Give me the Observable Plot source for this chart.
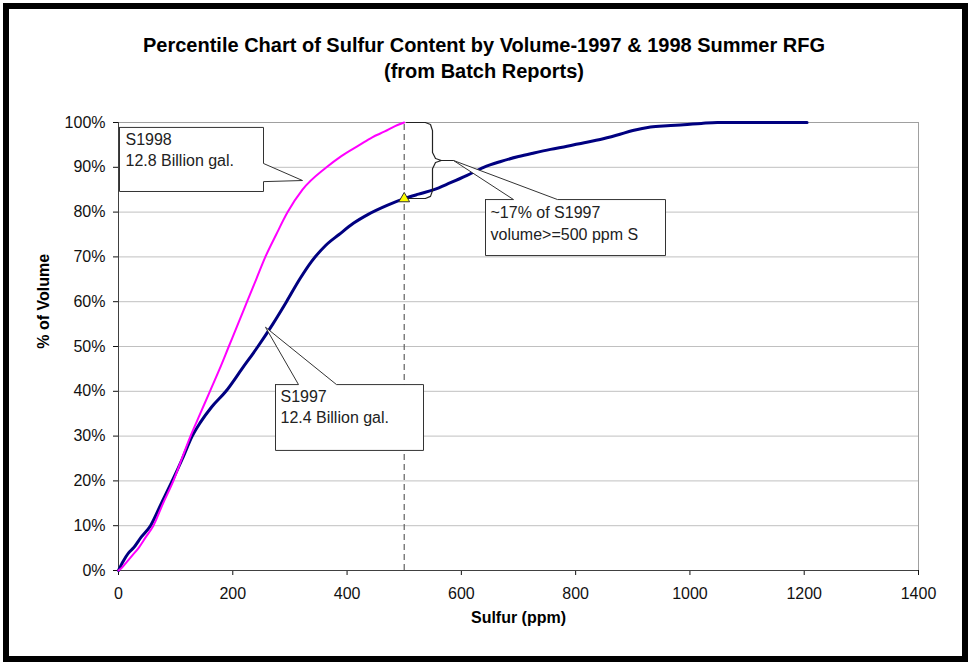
<!DOCTYPE html>
<html>
<head>
<meta charset="utf-8">
<script src="https://cdn.jsdelivr.net/npm/d3@7"></script>
<script src="https://cdn.jsdelivr.net/npm/@observablehq/plot@0.6"></script>
<style>
  body { margin: 0; background: #fff; font-family: Arial, "Liberation Sans", sans-serif; }
  #wrap { position: relative; width: 973px; height: 665px; overflow: hidden; background: #fff; }
  #chart { position: absolute; left: 0; top: 0; }
  #frame { position: absolute; left: 3px; top: 3px; width: 953px; height: 647px; border: 6px solid #000; pointer-events: none; }
  #title { position: absolute; left: 0; width: 968px; top: 32px; text-align: center; font-weight: bold;
           font-size: 20px; line-height: 26px; color: #000; font-family: Arial, "Liberation Sans", sans-serif; }
</style>
</head>
<body>
<div id="wrap">
  <div id="chart"></div>
  <div id="title">Percentile Chart of Sulfur Content by Volume-1997 &amp; 1998 Summer RFG<br>(from Batch Reports)</div>
  <div id="frame"></div>
</div>
<script>
// ---- Data ----
const xTicks = [0, 200, 400, 600, 800, 1000, 1200, 1400];
const yTicks = [0, 10, 20, 30, 40, 50, 60, 70, 80, 90, 100];

// S1997 cumulative % of volume vs sulfur (ppm)
const s1997Sulfur = [0, 8, 18, 26, 40, 56, 75, 94, 112, 129, 143, 163, 188, 216, 244, 270, 294, 317, 338, 362, 386, 411, 437, 470, 500, 525, 552, 580, 610, 639, 669, 700, 727, 756, 785, 815, 843, 873, 900, 931, 960, 989, 1020, 1048, 1100, 1150, 1205];
const s1997Pct    = [0, 2, 4, 5, 7.5, 10, 15, 20, 25, 30, 33, 36.5, 40, 45, 50, 55, 60, 65, 69, 72.5, 75, 77.5, 79.5, 81.5, 83, 84, 85, 86.5, 88.2, 90, 91.3, 92.4, 93.2, 94, 94.7, 95.5, 96.2, 97.2, 98.2, 99, 99.3, 99.5, 99.8, 100, 100, 100, 100];

// S1998 cumulative % of volume vs sulfur (ppm)
const s1998Sulfur = [0, 5, 15, 25, 35, 48, 61, 78, 96, 111, 126, 143, 160, 177, 193, 209, 225, 241, 257, 276, 296, 322, 364, 390, 422, 444, 466, 484, 500];
const s1998Pct    = [0, 0.5, 2, 3.5, 5, 7.5, 10, 15, 20, 25, 30, 35, 40, 45, 50, 55, 60, 65, 70, 75, 80, 85, 90, 92.5, 95, 96.7, 98, 99.2, 100];

// 500 ppm reference and marker on S1997
const refSulfur = [500];
const markerPoint = [{sulfur: 500, pct: 83}];

// Brace spanning 83% .. 100% at 500 ppm (data units)
const braceSulfur = [504, 537, 546, 549.5, 549.5, 554.8, 565, 586, 565, 554.8, 549.5, 549.5, 546, 537, 507];
const bracePct    = [100, 100, 99.55, 98.2, 93.3, 91.96, 91.52, 91.52, 91.52, 91.07, 89.7, 84.8, 83.5, 83.04, 83.04];

// Callouts (box + pointer) in data units
const call1Sulfur = [1.75, 253.75, 253.75, 322, 253.75, 253.75, 1.75, 1.75];
const call1Pct    = [98.9, 98.9, 90.85, 87.05, 86.8, 84.6, 84.6, 98.9];
const call2Sulfur = [274.75, 315, 257.25, 381.5, 533.75, 533.75, 274.75, 274.75];
const call2Pct    = [41.5, 41.5, 54.3, 41.5, 41.5, 26.8, 26.8, 41.5];
const call3Sulfur = [642.25, 691.25, 586.25, 768.25, 957.25, 957.25, 642.25, 642.25];
const call3Pct    = [82.8, 82.8, 91.52, 82.8, 82.8, 70.3, 70.3, 82.8];

const labelTexts = ["S1998", "12.8 Billion gal.", "S1997", "12.4 Billion gal.", "~17% of S1997", "volume>=500 ppm S"];
const labelSulfur = [12.25, 12.25, 283.5, 283.5, 651, 651];
const labelPct = [96.2, 91.5, 38.8, 34.15, 79.8, 75.0];

// ---- Build tables ----
const s1997 = s1997Sulfur.map((s, i) => ({sulfur: s, pct: s1997Pct[i]}));
const s1998 = s1998Sulfur.map((s, i) => ({sulfur: s, pct: s1998Pct[i]}));
const brace = braceSulfur.map((s, i) => ({sulfur: s, pct: bracePct[i]}));
const call1 = call1Sulfur.map((s, i) => ({sulfur: s, pct: call1Pct[i]}));
const call2 = call2Sulfur.map((s, i) => ({sulfur: s, pct: call2Pct[i]}));
const call3 = call3Sulfur.map((s, i) => ({sulfur: s, pct: call3Pct[i]}));
const labels = labelTexts.map((t, i) => ({text: t, sulfur: labelSulfur[i], pct: labelPct[i]}));

const font = "Arial, 'Liberation Sans', sans-serif";

const chart = Plot.plot({
  width: 973,
  height: 665,
  marginLeft: 118,
  marginRight: 55,
  marginTop: 122,
  marginBottom: 95,
  style: {background: "transparent", fontFamily: font, fontSize: "16px", color: "#111"},
  x: {domain: [0, 1400], ticks: xTicks, tickSize: 5, tickPadding: 12, tickFormat: d => `${d}`, label: null},
  y: {domain: [0, 100], ticks: yTicks, tickSize: 5, tickPadding: 8, tickFormat: d => `${d}%`, label: null},
  marks: [
    Plot.ruleY(yTicks.filter(d => d > 0 && d < 100), {stroke: "#c0c0c0", strokeWidth: 1}),
    Plot.ruleY([100], {stroke: "#a0a0a0", strokeWidth: 1}),
    Plot.ruleX([1400], {stroke: "#a0a0a0", strokeWidth: 1}),
    Plot.ruleX([0], {stroke: "#404040", strokeWidth: 1}),
    Plot.ruleY([0], {stroke: "#404040", strokeWidth: 1}),
    Plot.ruleX(refSulfur, {y1: 0, y2: 100, stroke: "#606060", strokeWidth: 1.2, strokeDasharray: "6,4"}),
    Plot.line(s1997, {x: "sulfur", y: "pct", stroke: "#000080", strokeWidth: 3, curve: "monotone-x"}),
    Plot.line(s1998, {x: "sulfur", y: "pct", stroke: "#ff00ff", strokeWidth: 2, curve: "monotone-x"}),
    Plot.line(brace, {x: "sulfur", y: "pct", stroke: "#222", strokeWidth: 1.2, curve: "linear"}),
    Plot.dot(markerPoint, {x: "sulfur", y: "pct", symbol: "triangle", r: 4, fill: "#ffff00", stroke: "#333", strokeWidth: 1}),
    Plot.line(call1, {x: "sulfur", y: "pct", fill: "white", stroke: "#333", strokeWidth: 1}),
    Plot.line(call2, {x: "sulfur", y: "pct", fill: "white", stroke: "#333", strokeWidth: 1}),
    Plot.line(call3, {x: "sulfur", y: "pct", fill: "white", stroke: "#333", strokeWidth: 1}),
    Plot.text(labels, {x: "sulfur", y: "pct", text: "text", textAnchor: "start", lineAnchor: "middle", fontSize: 16, fill: "#222", fontFamily: font}),
    Plot.text(["Sulfur (ppm)"], {x: [700], frameAnchor: "bottom", dy: 52, text: d => d, fontWeight: "bold", fontSize: 16, fill: "#000", fontFamily: font}),
    Plot.text(["% of Volume"], {y: [49.5], frameAnchor: "left", dx: -75, rotate: -90, text: d => d, fontWeight: "bold", fontSize: 16, fill: "#000", fontFamily: font})
  ]
});
document.getElementById("chart").appendChild(chart);
</script>
</body>
</html>
